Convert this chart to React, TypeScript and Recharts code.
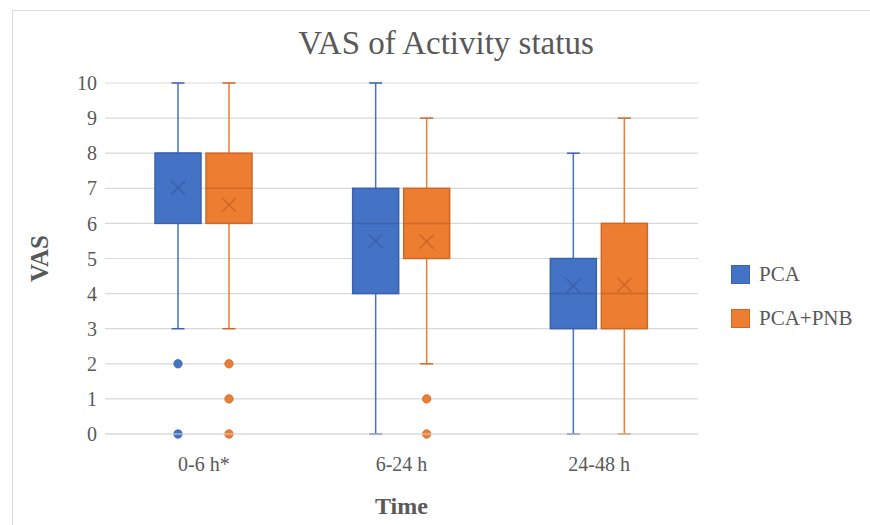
import React from "react";
import {
  ComposedChart,
  Bar,
  XAxis,
  YAxis,
  CartesianGrid,
  Legend,
  Label,
} from "recharts";

const CATEGORIES = ["0-6 h*", "6-24 h", "24-48 h"];

const PCA_MIN = [3, 0, 0];
const PCA_Q1 = [6, 4, 3];
const PCA_MEDIAN = [8, 6, 4];
const PCA_Q3 = [8, 7, 5];
const PCA_MAX = [10, 10, 8];
const PCA_MEAN = [7.02, 5.5, 4.22];
const PCA_OUTLIERS = [[2, 0], [], []];

const PNB_MIN = [3, 2, 0];
const PNB_Q1 = [6, 5, 3];
const PNB_MEDIAN = [7, 6, 4];
const PNB_Q3 = [8, 7, 6];
const PNB_MAX = [10, 9, 9];
const PNB_MEAN = [6.53, 5.48, 4.25];
const PNB_OUTLIERS = [[2, 1, 0], [1, 0], []];

const Y_TICKS = [0, 1, 2, 3, 4, 5, 6, 7, 8, 9, 10];

const SERIES = [
  { key: "pca", name: "PCA", fill: "#4472C4", stroke: "#3A62AD" },
  { key: "pnb", name: "PCA+PNB", fill: "#ED7D31", stroke: "#CF6727" },
];

const FONT = '"Liberation Serif", "Times New Roman", serif';
const TEXT = "#595959";

const stats = (
  i: number,
  min: number[],
  q1: number[],
  med: number[],
  q3: number[],
  max: number[],
  mean: number[],
  out: number[][]
) => ({
  min: min[i],
  q1: q1[i],
  median: med[i],
  q3: q3[i],
  max: max[i],
  mean: mean[i],
  outliers: out[i],
});

const data = CATEGORIES.map((name, i) => ({
  name,
  pca: stats(i, PCA_MIN, PCA_Q1, PCA_MEDIAN, PCA_Q3, PCA_MAX, PCA_MEAN, PCA_OUTLIERS),
  pnb: stats(i, PNB_MIN, PNB_Q1, PNB_MEDIAN, PNB_Q3, PNB_MAX, PNB_MEAN, PNB_OUTLIERS),
}));

// the bar spans [min, max]; everything else is placed on that same scale
const boxShape = (key: string, fill: string, stroke: string) => (props: any) => {
  const { x, y, width, height, payload } = props;
  const s = payload[key];
  const px = height / (s.max - s.min);
  const yOf = (v: number) => y + (s.max - v) * px;
  const cx = x + width / 2;
  const cap = 6.5;
  const m = 7;
  const my = yOf(s.mean);
  return (
    <g>
      <line x1={cx} x2={cx} y1={yOf(s.max)} y2={yOf(s.min)} stroke={fill} strokeWidth={1.5} />
      <line x1={cx - cap} x2={cx + cap} y1={yOf(s.max)} y2={yOf(s.max)} stroke={stroke} strokeWidth={1.5} />
      <line x1={cx - cap} x2={cx + cap} y1={yOf(s.min)} y2={yOf(s.min)} stroke={stroke} strokeWidth={1.5} />
      <rect
        x={x}
        y={yOf(s.q3)}
        width={width}
        height={yOf(s.q1) - yOf(s.q3)}
        fill={fill}
        stroke={stroke}
        strokeWidth={1.5}
      />
      <line x1={x} x2={x + width} y1={yOf(s.median)} y2={yOf(s.median)} stroke={stroke} strokeWidth={1.5} />
      <line x1={cx - m} x2={cx + m} y1={my - m} y2={my + m} stroke={stroke} strokeWidth={1.5} />
      <line x1={cx - m} x2={cx + m} y1={my + m} y2={my - m} stroke={stroke} strokeWidth={1.5} />
      {s.outliers.map((v: number, j: number) => (
        <circle key={j} cx={cx} cy={yOf(v)} r={4.2} fill={fill} stroke={stroke} strokeWidth={0.8} />
      ))}
    </g>
  );
};

const LegendBox = () => (
  <div style={{ fontFamily: FONT, fontSize: 21, color: TEXT }}>
    {SERIES.map((s) => (
      <div key={s.key} style={{ display: "flex", alignItems: "center", height: 44 }}>
        <span
          style={{
            display: "inline-block",
            width: 17,
            height: 17,
            background: s.fill,
            border: `1px solid ${s.stroke}`,
            marginRight: 9,
          }}
        />
        <span>{s.name}</span>
      </div>
    ))}
  </div>
);

export default function App() {
  return (
    <div style={{ position: "absolute", left: 0, top: 0, width: 870, height: 525, background: "#fff" }}>
      <div
        style={{
          position: "absolute",
          left: 12,
          top: 10,
          width: 870,
          height: 525,
          borderLeft: "1px solid #d9d9d9",
          borderTop: "1px solid #d9d9d9",
        }}
      />
      <div
        style={{
          position: "absolute",
          left: 0,
          top: 27,
          width: 892,
          textAlign: "center",
          fontFamily: FONT,
          fontSize: 33,
          lineHeight: 1,
          color: TEXT,
        }}
      >
        VAS of Activity status
      </div>
      <ComposedChart
        width={870}
        height={525}
        data={data}
        margin={{ top: 83, right: 172, bottom: 11, left: 12 }}
        barSize={46}
        barGap={5}
        style={{ position: "absolute", left: 0, top: 0 }}
      >
        <CartesianGrid vertical={false} stroke="#d9d9d9" strokeWidth={1.2} />
        <XAxis
          dataKey="name"
          height={80}
          tickLine={false}
          axisLine={{ stroke: "#d9d9d9", strokeWidth: 1.2 }}
          tickMargin={17}
          tick={{ fill: TEXT, fontSize: 20, fontFamily: FONT }}
        >
          <Label
            value="Time"
            position="insideBottom"
            offset={0}
            style={{ fill: TEXT, fontSize: 24, fontWeight: "bold", fontFamily: FONT }}
          />
        </XAxis>
        <YAxis
          width={93}
          domain={[0, 10]}
          ticks={Y_TICKS}
          interval={0}
          tickLine={false}
          axisLine={false}
          tick={{ fill: TEXT, fontSize: 20, fontFamily: FONT }}
        >
          <Label
            value="VAS"
            angle={-90}
            position="insideLeft"
            offset={27}
            style={{ fill: TEXT, fontSize: 25, fontWeight: "bold", fontFamily: FONT, textAnchor: "middle" }}
          />
        </YAxis>
        <Legend
          layout="vertical"
          align="center"
          verticalAlign="middle"
          wrapperStyle={{ left: 731, top: 252, width: 140 }}
          content={() => <LegendBox />}
        />
        {SERIES.map((s) => (
          <Bar
            key={s.key}
            name={s.name}
            dataKey={(d: any) => [d[s.key].min, d[s.key].max]}
            fill={s.fill}
            shape={boxShape(s.key, s.fill, s.stroke)}
            isAnimationActive={false}
          />
        ))}
      </ComposedChart>
    </div>
  );
}
